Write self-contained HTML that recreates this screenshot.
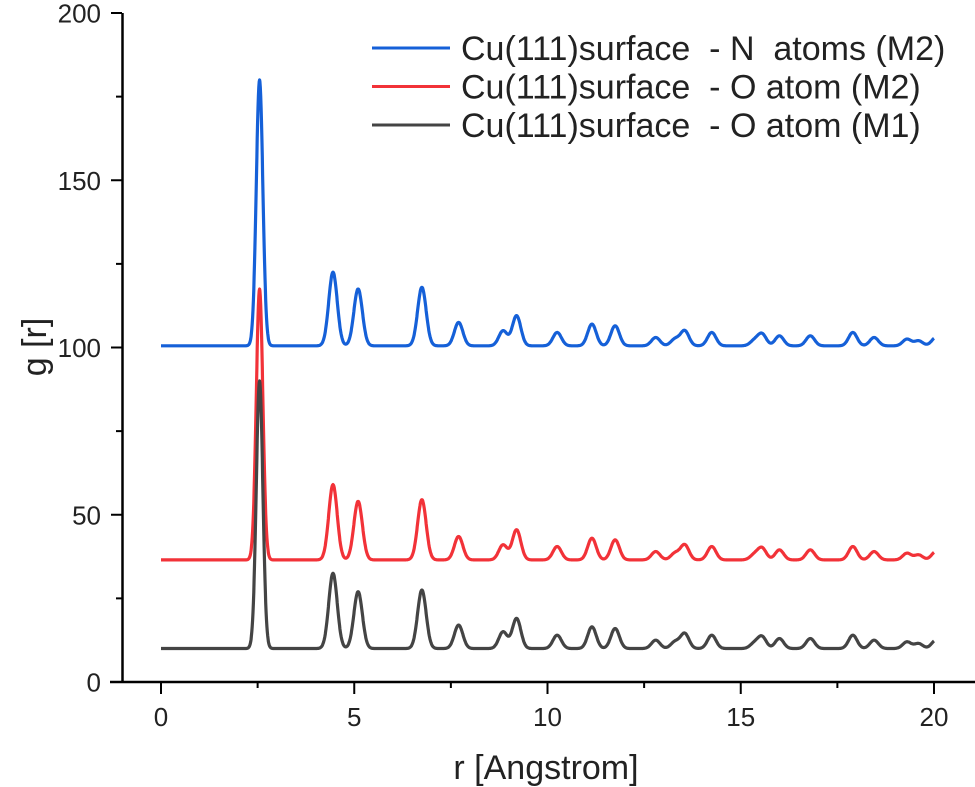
<!DOCTYPE html>
<html><head><meta charset="utf-8"><style>
body{margin:0;background:#fff}
svg{display:block;font-family:"Liberation Sans",Arial,sans-serif}
</style></head><body>
<svg id="chart" width="975" height="787" viewBox="0 0 975 787">
<g id="axes"></g>
<g id="series"></g>
<g id="legend"></g>
<text x="546" y="779" font-size="34" text-anchor="middle" fill="#222">r [Angstrom]</text>
<text transform="translate(46,347) rotate(-90)" font-size="34" text-anchor="middle" fill="#222">g [r]</text>
</svg>
<script>
const xTicks=[0,5,10,15,20];
const yTicks=[0,50,100,150,200];
const peakR=[2.55,4.45,5.1,6.75,7.7,8.85,9.2,10.25,11.15,11.75,12.8,13.3,13.55,14.25,15.35,15.55,16.0,16.8,17.9,18.45,19.3,19.6,20.05];
const seriesNames=["Cu(111)surface  - N  atoms (M2)","Cu(111)surface  - O atom (M2)","Cu(111)surface  - O atom (M1)"];
const seriesColors=["#1560d8","#f23238","#444444"];
const baseBlue=100.5, baseRed=36.5, baseBlack=10;
const peakBlue=[79.5,22,17,17.5,7,4.5,9,4,6.5,6,2.5,2,4.5,4,1.5,3.5,3,3,4,2.5,2,1.5,2.5];
const peakRed=[81,22.5,17.5,18,7,4.5,9,4,6.5,6,2.5,2,4.5,4,1.5,3.5,3,3,4,2.5,2,1.5,2.5];
const peakBlack=[80,22.5,17,17.5,7,5,9,4,6.5,6,2.5,2,4.5,4,1.5,3.5,3,3,4,2.5,2,1.5,2.5];

const X=r=>161+r*38.65, Y=v=>682-v*3.345;
const NS="http://www.w3.org/2000/svg";
function mk(tag,attrs,parent){const e=document.createElementNS(NS,tag);for(const k in attrs)e.setAttribute(k,attrs[k]);parent.appendChild(e);return e;}
const axes=document.getElementById('axes');
const a1=mk('line',{x1:122.5,y1:13,x2:122.5,y2:683,stroke:'#000','stroke-width':2.5},axes);


const a2=mk('line',{x1:110,y1:682,x2:975,y2:682,stroke:'#000','stroke-width':2.5},axes);


for(let v=0;v<=200;v+=25){const maj=v%50===0;mk('line',{x1:maj?111:116,x2:122,y1:Y(v),y2:Y(v),stroke:'#000','stroke-width':2},axes);}
yTicks.forEach(v=>{const t=mk('text',{x:101,y:Y(v)+9.5,'font-size':26,'text-anchor':'end',fill:'#222'},axes);t.textContent=v;

});
for(let r=0;r<=20.01;r+=2.5){const maj=Math.abs(r%5)<0.01;mk('line',{x1:X(r),x2:X(r),y1:682,y2:maj?694:688,stroke:'#000','stroke-width':2},axes);}
xTicks.forEach(r=>{const t=mk('text',{x:X(r),y:726,'font-size':26,'text-anchor':'middle',fill:'#222'},axes);t.textContent=r;

});
const sg=document.getElementById('series');
const all=[[baseBlue,peakBlue],[baseRed,peakRed],[baseBlack,peakBlack]];
all.forEach(([base,hs],i)=>{let d='';
 for(let r=0;r<=20.0001;r+=0.01){let v=base;peakR.forEach((p,j)=>{const s=j===0?0.085:0.11;v+=hs[j]*Math.exp(-((r-p)**2)/(2*s*s));});
  d+=(d?'L':'M')+X(r).toFixed(1)+','+Y(v).toFixed(1);}
 const p=mk('path',{d:d,fill:'none',stroke:seriesColors[i],'stroke-width':3.2,'stroke-linejoin':'round'},sg);
 
 });
const lg=document.getElementById('legend');
seriesNames.forEach((n,i)=>{const y=48+i*38.5;
 const l=mk('line',{x1:372,x2:450,y1:y,y2:y,stroke:seriesColors[i],'stroke-width':3},lg);
 
 
 const t=mk('text',{x:461,y:y+12,'font-size':34,fill:'#222'},lg);t.textContent=n;t.style.whiteSpace='pre';
 
 });
</script>
</body></html>
